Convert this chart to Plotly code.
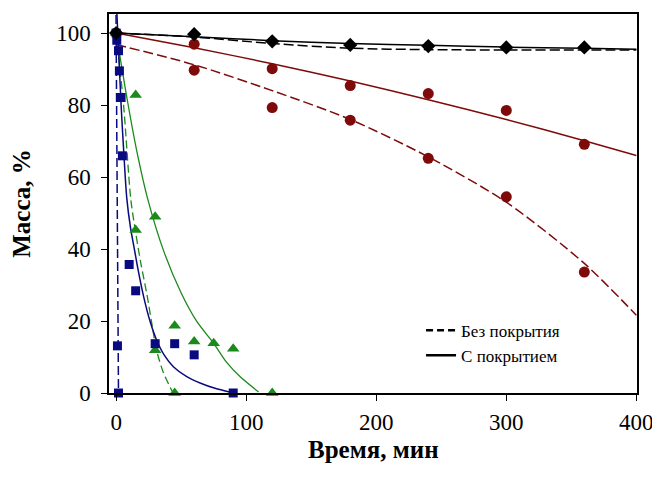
import plotly.graph_objects as go

# ---------------- data ----------------
# measured points (time, min ; mass, %)
t_black = [0, 60, 120, 180, 240, 300, 360]
m_black = [100, 99.7, 97.7, 96.7, 96.4, 96.0, 96.0]

t_red_coated = [0, 60, 120, 180, 240, 300, 360]
m_red_coated = [100, 96.9, 90.1, 85.4, 83.2, 78.5, 69.1]
t_red_bare = [60, 120, 180, 240, 300, 360]
m_red_bare = [89.7, 79.3, 75.8, 65.2, 54.5, 33.6]

t_green_coated = [0, 15, 30, 45, 60, 75, 90, 120]
m_green_coated = [100, 82.8, 49.0, 18.7, 14.3, 13.8, 12.3, 0]
t_green_bare = [15, 30, 45]
m_green_bare = [45.3, 11.9, 0]

t_navy_coated = [0, 0.5, 1.8, 2.5, 3.8, 4.8, 10, 15, 30, 45, 60, 90]
m_navy_coated = [100, 98.0, 95.1, 89.5, 82.1, 65.9, 35.7, 28.4, 13.7, 13.7, 10.6, 0]
t_navy_bare = [1.0, 1.8]
m_navy_bare = [13.1, 0]

# trend curves (sample points)
tc_black_coated = [0, 60, 120, 180, 240, 300, 360, 400]
mc_black_coated = [100, 99.0, 97.9, 97.1, 96.6, 96.1, 95.8, 95.5]
tc_black_bare = [0, 60, 120, 180, 240, 300, 360, 400]
mc_black_bare = [100, 98.9, 97.1, 95.8, 95.4, 95.3, 95.3, 95.3]

tc_red_coated = [0, 60, 120, 180, 240, 300, 360, 400]
mc_red_coated = [100, 95.9, 91.5, 86.7, 81.5, 76.0, 70.1, 66.0]
tc_red_bare = [0, 60, 120, 180, 240, 300, 360, 400]
mc_red_bare = [96.8, 91.2, 84.0, 76.0, 65.6, 53.0, 36.0, 21.6]

tc_green_coated = [0, 9, 16, 24.5, 37, 50, 62, 75, 85, 95.4, 109.5]
mc_green_coated = [100, 80.5, 67, 53.6, 39, 27.8, 19.9, 13.8, 8.5, 4.5, 0.3]
tc_green_bare = [0, 5.7, 11.2, 14.6, 19, 23.6, 28.5, 31, 36, 43]
mc_green_bare = [100, 80, 54, 45.5, 36, 27.5, 17, 12, 6, 0.5]

tc_navy_coated = [0, 3.8, 6, 8.2, 11, 14, 17, 21, 26, 31, 37, 44, 54, 65, 76, 88]
mc_navy_coated = [110, 80, 66, 54, 46, 40, 34, 27, 20, 14.8, 10.5, 7.3, 4.6, 2.7, 1.3, 0.2]
tc_navy_bare = [-0.1, 1.8]
mc_navy_bare = [105, 0]

legend_labels = ["Без покрытия", "С покрытием"]
x_ticks = [0, 100, 200, 300, 400]
y_ticks = [0, 20, 40, 60, 80, 100]
x_title = "Время, мин"
y_title = "Масса, %"

# ---------------- styling ----------------
BLACK = "#000000"
RED = "#7E0A0A"
GREEN = "#1A8A1A"
NAVY = "#0A0A80"
FONT = "Liberation Serif, Times New Roman, DejaVu Serif, serif"

fig = go.Figure()

def curve(x, y, color, dash, width=1.5):
    fig.add_trace(go.Scatter(x=x, y=y, mode="lines", showlegend=False,
                             line=dict(color=color, width=width, dash=dash, shape="spline", smoothing=0.8),
                             hoverinfo="skip"))

curve(tc_red_bare, mc_red_bare, RED, "10px,4px")
curve(tc_red_coated, mc_red_coated, RED, "solid")
curve(tc_green_bare, mc_green_bare, GREEN, "8px,4px", 1.3)
curve(tc_green_coated, mc_green_coated, GREEN, "solid", 1.3)
curve(tc_navy_bare, mc_navy_bare, NAVY, "9px,4px")
curve(tc_navy_coated, mc_navy_coated, NAVY, "solid")
curve(tc_black_bare, mc_black_bare, BLACK, "10px,4px")
curve(tc_black_coated, mc_black_coated, BLACK, "solid")

def points(x, y, color, symbol, size):
    fig.add_trace(go.Scatter(x=x, y=y, mode="markers", showlegend=False, cliponaxis=False,
                             marker=dict(color=color, symbol=symbol, size=size, line=dict(width=0))))

points(t_red_bare, m_red_bare, RED, "circle", 11)
points(t_red_coated, m_red_coated, RED, "circle", 11)
points(t_green_bare, m_green_bare, GREEN, "triangle-up", 11)
points(t_green_coated, m_green_coated, GREEN, "triangle-up", 11)
points(t_navy_bare, m_navy_bare, NAVY, "square", 9)
points(t_navy_coated, m_navy_coated, NAVY, "square", 9)
points(t_black, m_black, BLACK, "diamond", 11)

# legend entries (black line styles)
fig.add_trace(go.Scatter(x=[None], y=[None], mode="lines", name=legend_labels[0],
                         line=dict(color=BLACK, width=2.5, dash="7px,4px")))
fig.add_trace(go.Scatter(x=[None], y=[None], mode="lines", name=legend_labels[1],
                         line=dict(color=BLACK, width=2.5)))

axis_common = dict(showline=True, mirror=True, linecolor=BLACK, linewidth=1.5,
                   ticks="outside", ticklen=6, tickcolor=BLACK, tickwidth=1.2,
                   showgrid=False, zeroline=False, automargin=False,
                   tickfont=dict(family=FONT, size=23, color=BLACK))

# the page places the figure 8px from the top-left corner
fig.update_layout(
    width=652, height=477,
    margin=dict(l=101, r=23, t=6, b=92),
    paper_bgcolor="white", plot_bgcolor="white",
    font=dict(family=FONT, color=BLACK),
    xaxis=dict(range=[-5.5, 400.5], tickvals=x_ticks, ticklabelstandoff=2, **axis_common),
    yaxis=dict(range=[0, 105.3], tickvals=y_ticks, ticklabelstandoff=6,
               title=dict(text="<b>" + y_title + "</b>", standoff=20,
                          font=dict(family=FONT, size=25, color=BLACK)),
               **axis_common),
    legend=dict(x=0.591, y=0.212, xanchor="left", yanchor="top",
                bgcolor="rgba(0,0,0,0)", borderwidth=0,
                font=dict(family=FONT, size=17, color=BLACK),
                tracegroupgap=0, itemwidth=30),
    showlegend=True,
    annotations=[dict(text="<b>" + x_title + "</b>", xref="paper", yref="paper",
                      x=0.5, y=0, xanchor="center", yanchor="top", yshift=-41,
                      showarrow=False, font=dict(family=FONT, size=25, color=BLACK))],
)

fig.write_html("out.html")
